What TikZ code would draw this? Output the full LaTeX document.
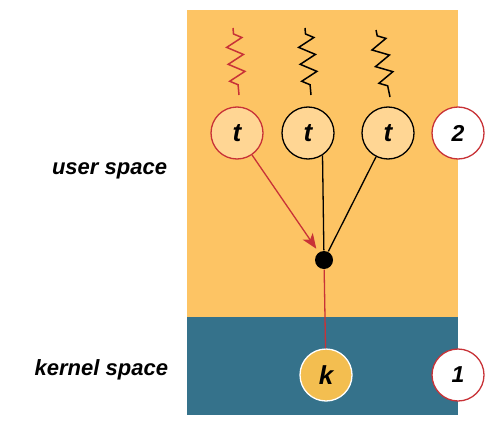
\documentclass[tikz,border=0pt]{standalone}
\usepackage{fontspec}
\setmainfont{Liberation Sans}
\usetikzlibrary{arrows.meta, decorations.pathmorphing}
\definecolor{userbg}{RGB}{253,196,100}
\definecolor{kernelbg}{RGB}{53,114,139}
\definecolor{threadfill}{RGB}{255,214,148}
\definecolor{kfill}{RGB}{243,190,80}
\definecolor{redline}{RGB}{200,50,55}

\begin{document}
\begin{tikzpicture}[
    x=1pt, y=-1pt,
    line width=1.3pt,
    thread/.style={circle, draw, fill=threadfill, minimum size=52pt, inner sep=0pt,
        font=\bfseries\itshape\fontsize{26}{26}\selectfont},
    number/.style={circle, draw=redline, fill=white, minimum size=52pt, inner sep=0pt,
        font=\bfseries\itshape\fontsize{23}{23}\selectfont},
    lbl/.style={anchor=east, font=\bfseries\itshape\fontsize{22}{22}\selectfont},
    spring/.style={line width=1.5pt, decorate, decoration={zigzag, segment length=17pt,
        amplitude=8pt, pre length=6pt, post length=7pt}}
]
    \useasboundingbox (0,0) rectangle (492,420);

    % Bereiche
    \fill[userbg] (187,10) rectangle (458,317);
    \fill[kernelbg] (187,317) rectangle (458,415);

    \node[lbl] (user) at (171,171) {user space};
    \node[lbl] (kernel) at (172,370) {kernel space};

    % Threads
    \node[thread, draw=redline] (t1) at (237,133) {t};
    \node[thread] (t2) at (308,133) {t};
    \node[thread] (t3) at (388,133) {t};
    \node[number] (n2) at (458,133) {2};

    \draw[spring, redline] (233,28) -- (239,95);
    \draw[spring] (305,28) -- (311,95);
    \draw[spring] (376,30) -- (390,97);

    % Kernel
    \node[circle, fill=black, minimum size=18pt, inner sep=0pt] (dot) at (324,260) {};
    \node[thread, draw=white, fill=kfill] (k) at (326,375) {k};
    \node[number] (n1) at (458,375) {1};

    % Kanten
    \draw[redline, -{Stealth[length=15pt, width=12pt, inset=4pt]}, shorten >=4pt] (t1) -- (dot);
    \draw (t2.-57) -- (dot);
    \draw (t3) -- (dot);
    \draw[redline] (dot) -- (k);
\end{tikzpicture}
\end{document}
